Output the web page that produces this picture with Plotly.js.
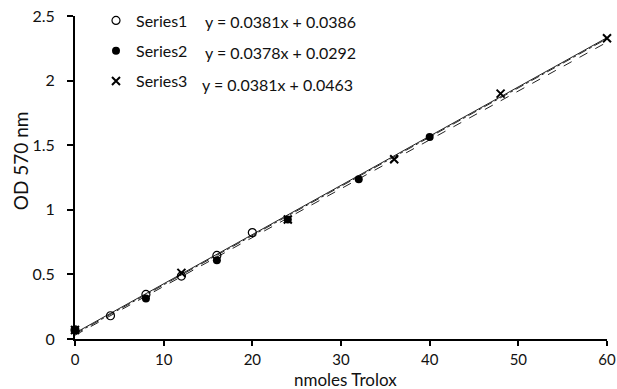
<!DOCTYPE html>
<html><head><meta charset="utf-8">
<script src="https://cdn.plot.ly/plotly-3.0.1.min.js"></script>
<style>html,body{margin:0;padding:0;background:#fff}#chart{width:617px;height:389px}</style>
</head><body><div id="chart"></div>
<script>
const seriesNames = ["Series1", "Series2", "Series3"];
const s1x = [0, 4, 8, 12, 16, 20];
const s1y = [0.07, 0.18, 0.345, 0.487, 0.647, 0.824];
const s2x = [0, 8, 16, 24, 32, 40];
const s2y = [0.07, 0.314, 0.61, 0.925, 1.236, 1.563];
const s3x = [0, 12, 24, 36, 48, 60];
const s3y = [0.07, 0.512, 0.925, 1.391, 1.899, 2.328];
const slopes = [0.0381, 0.0378, 0.0381];
const intercepts = [0.0386, 0.0292, 0.0463];
const trendRange = [0, 60];
const xTicks = [0, 10, 20, 30, 40, 50, 60];
const yTicks = [0, 0.5, 1, 1.5, 2, 2.5];

const FONT = "Lato, 'Open Sans', sans-serif";
const xs = [s1x, s2x, s3x], ys = [s1y, s2y, s3y];
const markers = [
  {symbol: "circle-open", size: 8, color: "#000", line: {width: 1.2, color: "#000"}},
  {symbol: "circle", size: 8, color: "#000"},
  {symbol: "x-thin-open", size: 8, color: "#000", line: {width: 2, color: "#000"}}
];
const dashes = ["dashdot", "dash", "solid"];
const traces = [];
for (let i = 0; i < 3; i++) {
  traces.push({
    x: trendRange, y: trendRange.map(v => slopes[i] * v + intercepts[i]),
    mode: "lines", line: {color: "#222", width: 1, dash: dashes[i]},
    showlegend: false, hoverinfo: "skip"
  });
}
for (let i = 0; i < 3; i++) {
  traces.push({
    x: xs[i], y: ys[i], name: seriesNames[i], mode: "markers",
    marker: markers[i], cliponaxis: false, legendgroup: "g" + i
  });
}
const eqPos = [[203, 21], [203, 52], [200, 84]];
const W = 617, H = 389;
const L = 75, R = 606.7, T = 15.5, B = 339;
const px = v => (v - L) / (R - L), py = v => (B - v) / (B - T);
const annotations = [];
for (let i = 0; i < 3; i++) {
  annotations.push({
    xref: "paper", yref: "paper", x: px(eqPos[i][0]), y: py(eqPos[i][1]),
    xanchor: "left", yanchor: "middle", showarrow: false,
    text: "y = " + slopes[i].toFixed(4) + "x + " + intercepts[i].toFixed(4),
    font: {family: FONT, size: 16, color: "#111"}
  });
}
annotations.push({xref: "paper", yref: "paper", x: px(20), y: py(160), textangle: -90,
  xanchor: "center", yanchor: "middle",
  showarrow: false, text: "OD 570 nm", font: {family: FONT, size: 19, color: "#111"}});
annotations.push({xref: "paper", yref: "paper", x: px(345), y: py(391),
  xanchor: "center", yanchor: "bottom", borderpad: 0,
  showarrow: false, text: "nmoles Trolox", font: {family: FONT, size: 17, color: "#111"}});

const layout = {
  width: W, height: H,
  margin: {l: L, r: W - R, t: T, b: H - B, pad: 0, autoexpand: false},
  paper_bgcolor: "#fff", plot_bgcolor: "#fff",
  font: {family: FONT, size: 16, color: "#111"},
  showlegend: true,
  legend: {xref: "container", yref: "container", x: 96 / W, y: (H - 3.5) / H,
    xanchor: "left", yanchor: "top", bgcolor: "rgba(0,0,0,0)",
    tracegroupgap: 6.5, itemwidth: 30, font: {family: FONT, size: 16, color: "#111"}},
  xaxis: {range: [0, 60], tickvals: xTicks, ticks: "outside", ticklen: 5, tickwidth: 2,
    tickcolor: "#000", showline: true, linecolor: "#000", linewidth: 2, showgrid: false,
    zeroline: false, tickfont: {family: FONT, size: 15, color: "#111"}, ticklabelstandoff: 1, fixedrange: true},
  yaxis: {range: [0, 2.5], tickvals: yTicks, ticks: "outside", ticklen: 6, tickwidth: 2,
    tickcolor: "#000", showline: true, linecolor: "#000", linewidth: 2, showgrid: false,
    zeroline: false, tickfont: {family: FONT, size: 16, color: "#111"}, ticklabelstandoff: 9, fixedrange: true},
  annotations: annotations
};
Plotly.newPlot("chart", traces, layout, {displayModeBar: false, staticPlot: true});
</script></body></html>
